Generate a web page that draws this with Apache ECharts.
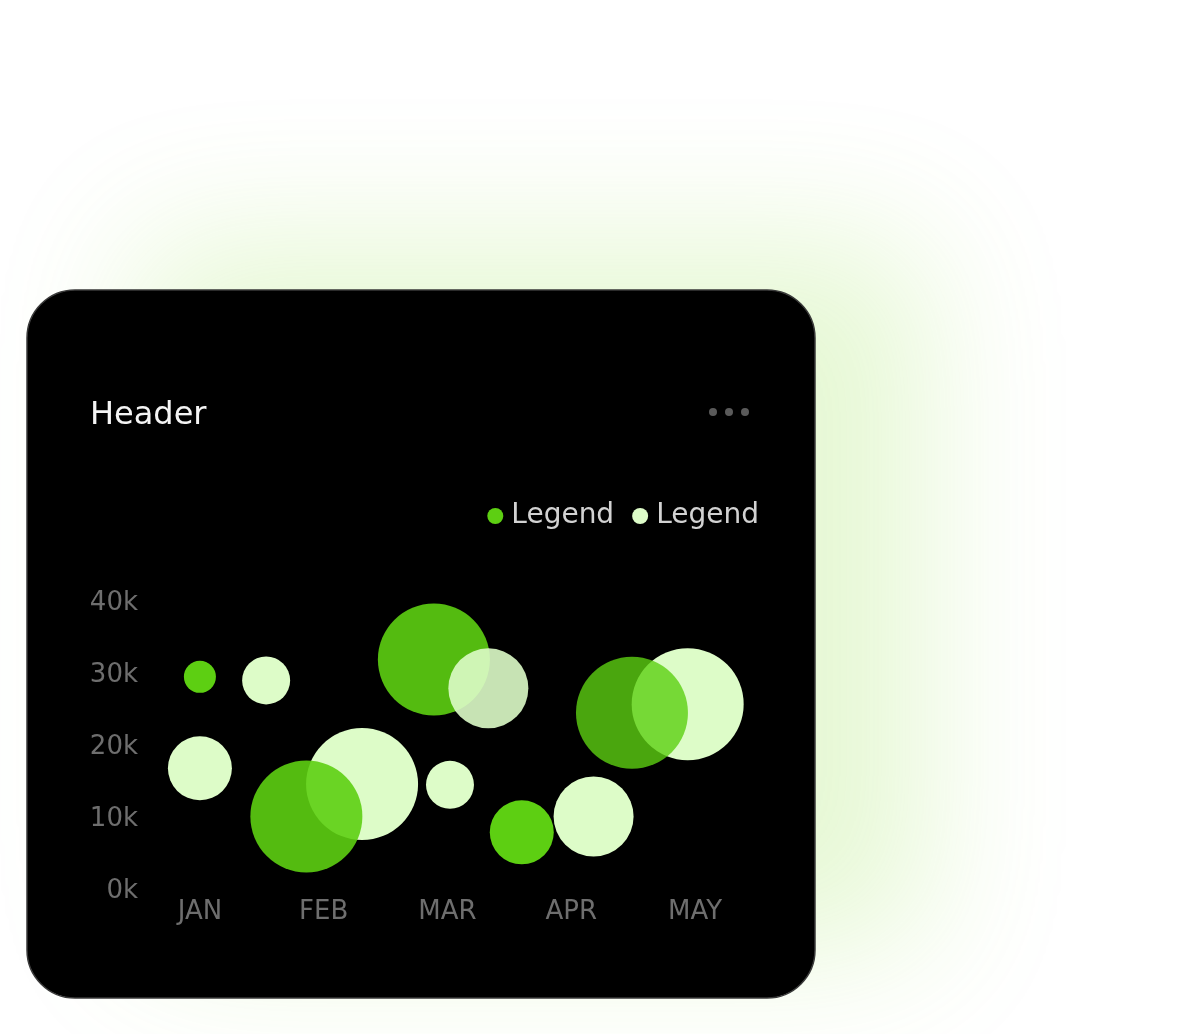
<!DOCTYPE html>
<html><head><meta charset="utf-8">
<script src="https://cdn.jsdelivr.net/npm/echarts@6/dist/echarts.min.js"></script>
<style>html,body{margin:0;padding:0;background:#fff}#c{width:1187px;height:1034px}</style>
</head><body><div id="c"></div>
<script>
// ---- data ----
const months = ['JAN', 'FEB', 'MAR', 'APR', 'MAY'];
const darkX = [0, 0.86, 1.89, 2.60, 3.49];
const darkY = [29400, 10000, 31800, 7800, 24400];
const darkSize = [2, 7, 7, 4, 7];
const lightX = [0, 0.535, 1.31, 2.02, 2.33, 3.18, 3.94];
const lightY = [16700, 28900, 14500, 14400, 27800, 10000, 25600];
const lightSize = [4, 3, 7, 3, 5, 5, 7];
const yTicks = [0, 10000, 20000, 30000, 40000];

// ---- style ----
const DARK = '#5DCF12', LIGHT = '#DDFCC8';
const darkAlpha = [1, 0.9, 0.9, 1, 0.8];
const lightAlpha = [1, 1, 1, 1, 0.9, 1, 1];
const lightOnTop = [false, false, false, false, true, false, false];
const PX_PER_SIZE = 16;
const FONT = '"DejaVu Sans", sans-serif';

function pts(xs, ys, ss, alphas, filter) {
  const out = [];
  xs.forEach((x, i) => {
    if (filter && !filter(i)) return;
    out.push({ value: [x, ys[i], ss[i]], itemStyle: { opacity: alphas[i] } });
  });
  return out;
}

const chart = echarts.init(document.getElementById('c'), null, { renderer: 'canvas' });
chart.setOption({
  animation: false,
  backgroundColor: '#ffffff',
  title: {
    text: 'Header', left: 90, top: 400, padding: 0,
    textStyle: { color: '#f4f4f4', fontSize: 32, fontWeight: 'normal', fontFamily: FONT }
  },
  legend: {
    data: [
      { name: 'A', itemStyle: { color: DARK, opacity: 1 } },
      { name: 'B', itemStyle: { color: LIGHT, opacity: 1 } }
    ],
    right: 428, top: 502, padding: 0, itemGap: 18,
    itemWidth: 16, itemHeight: 16, icon: 'circle',
    formatter: () => 'Legend',
    textStyle: { color: '#d2d2d2', fontSize: 28, fontFamily: FONT, lineHeight: 28, padding: [0, 0, 0, 3] }
  },
  grid: { left: 138, width: 619, top: 600.5, height: 288 },
  xAxis: [
    {
      type: 'category', data: months, boundaryGap: true, z: 5,
      axisLine: { show: false }, axisTick: { show: false }, splitLine: { show: false },
      axisLabel: { color: '#6e6e6e', fontSize: 26, fontFamily: FONT, margin: 11 }
    },
    { type: 'value', min: -0.5, max: 4.5, show: false }
  ],
  yAxis: {
    type: 'value', min: yTicks[0], max: yTicks[yTicks.length - 1], interval: yTicks[1] - yTicks[0], z: 5,
    axisLine: { show: false }, axisTick: { show: false }, splitLine: { show: false },
    axisLabel: {
      margin: 0, formatter: v => '{t|' + (v / 1000) + 'k}',
      rich: { t: { color: '#6e6e6e', fontSize: 26, fontFamily: FONT, padding: [6, 0, 0, 0] } }
    }
  },
  graphic: [
    {
      type: 'rect', z: -1,
      shape: { x: 27, y: 290, width: 788, height: 708, r: 48 },
      style: {
        fill: '#000', stroke: '#3a3a3a', lineWidth: 1.5,
        shadowBlur: 140, shadowColor: 'rgba(140,225,60,0.22)', shadowOffsetX: 110, shadowOffsetY: -50
      }
    },
    { type: 'circle', z: 1, shape: { cx: 713, cy: 412, r: 4 }, style: { fill: '#5a5a5a' } },
    { type: 'circle', z: 1, shape: { cx: 729, cy: 412, r: 4 }, style: { fill: '#5a5a5a' } },
    { type: 'circle', z: 1, shape: { cx: 745, cy: 412, r: 4 }, style: { fill: '#5a5a5a' } }
  ],
  series: [
    {
      name: 'B', type: 'scatter', xAxisIndex: 1, itemStyle: { color: LIGHT },
      symbolSize: v => v[2] * PX_PER_SIZE,
      data: pts(lightX, lightY, lightSize, lightAlpha, i => !lightOnTop[i])
    },
    {
      name: 'A', type: 'scatter', xAxisIndex: 1, itemStyle: { color: DARK },
      symbolSize: v => v[2] * PX_PER_SIZE,
      data: pts(darkX, darkY, darkSize, darkAlpha)
    },
    {
      name: 'B', type: 'scatter', xAxisIndex: 1, itemStyle: { color: LIGHT },
      symbolSize: v => v[2] * PX_PER_SIZE,
      data: pts(lightX, lightY, lightSize, lightAlpha, i => lightOnTop[i])
    }
  ]
});
</script></body></html>
